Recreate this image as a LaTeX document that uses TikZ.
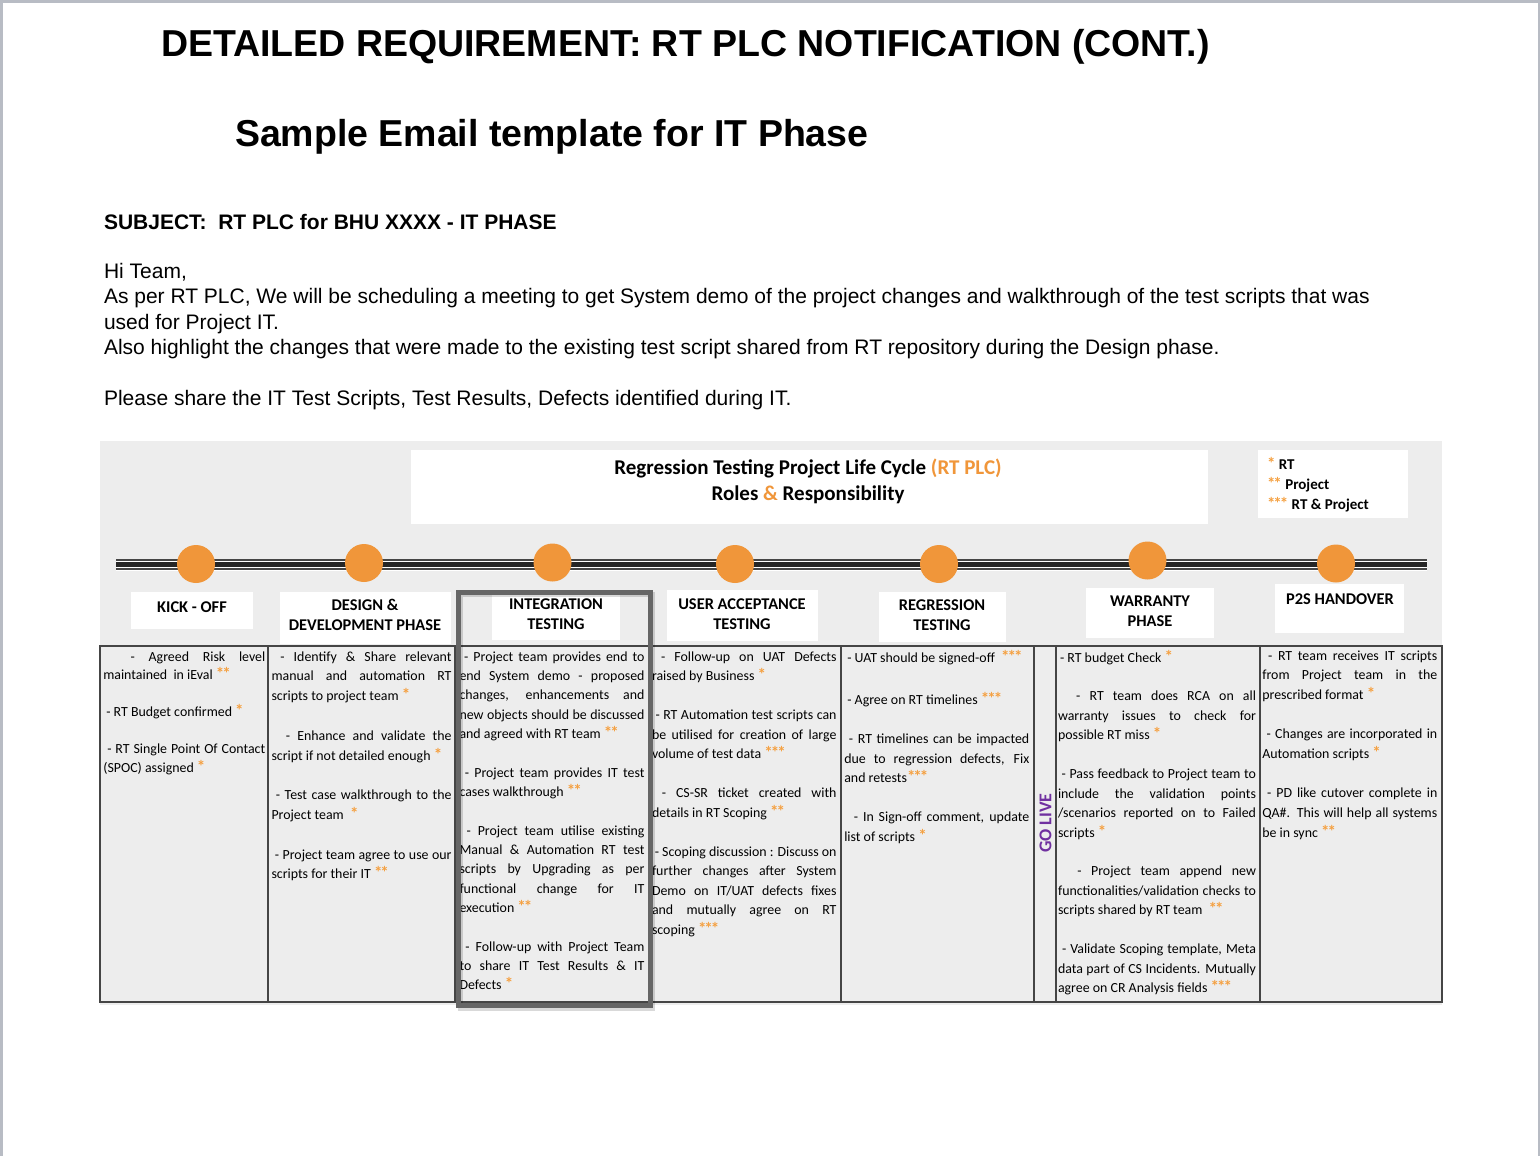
\documentclass[tikz,border=0pt]{standalone}
\usepackage{fontspec}
\setmainfont{Liberation Sans}
\newfontfamily\calfont{Carlito}
\newfontfamily\astfont{Carlito}[LetterSpace=-12]
\usetikzlibrary{calc}
\definecolor{org}{HTML}{F0963A}
\definecolor{ast}{HTML}{F5A040}
\definecolor{bggray}{HTML}{EDEDED}
\definecolor{pageframe}{HTML}{B8BCC4}
\definecolor{hl}{HTML}{666666}
\definecolor{tline}{HTML}{454545}
\definecolor{golive}{HTML}{7030A0}
\newcommand\J[1]{\makebox[\linewidth][s]{#1}}
\newcommand\A[1]{{\astfont\bfseries\fontsize{17}{0}\selectfont\textcolor{ast}{#1}}}
\newcommand\cellfont{\calfont\fontsize{13.9}{19.5}\selectfont}
\newcommand\lsk[1]{\fontsize{13.9}{#1}\selectfont}
\begin{document}
\begin{tikzpicture}[x=1pt,y=-1pt,
  txt/.style={anchor=base west, inner sep=0, outer sep=0},
  bodytxt/.style={txt, font=\fontsize{21}{25}\selectfont},
  whitebox/.style={fill=white, inner sep=0, outer sep=0},
  lbltext/.style={anchor=base, inner sep=0, font=\calfont\bfseries\fontsize{16.4}{20}\selectfont},
  legtext/.style={txt, font=\calfont\bfseries\fontsize{15}{20}\selectfont},
  dot/.style={circle, fill=org, minimum size=38pt, inner sep=0},
  cell/.style={anchor=base west, inner sep=0, outer sep=0, font=\cellfont},
  tablerule/.style={draw=tline, line width=1.2pt},
 ]
\useasboundingbox (0,0) rectangle (1540,1156);
\fill[white] (0,0) rectangle (1540,1156);
\fill[pageframe] (0,0) rectangle (1540,3);
\fill[pageframe] (0,0) rectangle (3,1156);
\fill[pageframe] (1538,0) rectangle (1540,1156);

% titles
\node[txt, font=\bfseries\fontsize{37.5}{44}\selectfont] (title) at (161,56.7) {DETAILED REQUIREMENT: RT PLC NOTIFICATION (CONT.)};
\node[txt, font=\bfseries\fontsize{37.5}{44}\selectfont] (subtitle) at (235,146) {Sample Email template for IT Phase};
\node[txt, font=\bfseries\fontsize{21}{25}\selectfont] (subject) at (104,229) {SUBJECT:\ \ RT PLC for BHU XXXX - IT PHASE};
\node[bodytxt] (b1) at (104,278) {Hi Team,};
\node[bodytxt] (b2) at (104,303.5) {As per RT PLC, We will be scheduling a meeting to get System demo of the project changes and walkthrough of the test scripts that was};
\node[bodytxt] (b3) at (104,329) {used for Project IT.};
\node[bodytxt] (b4) at (104,354.5) {Also highlight the changes that were made to the existing test script shared from RT repository during the Design phase.};
\node[bodytxt] (b5) at (104,405.5) {Please share the IT Test Scripts, Test Results, Defects identified during IT.};

% diagram background
\fill[bggray] (100,441) rectangle (1442,1005);
\node[whitebox, minimum width=797pt, minimum height=74pt] (hdr) at (809.5,487) {};
\node[anchor=base, inner sep=0, font=\calfont\bfseries\fontsize{21}{26}\selectfont] (h1) at (808,474) {Regression Testing Project Life Cycle \textcolor{org}{(RT PLC)}};
\node[anchor=base, inner sep=0, font=\calfont\bfseries\fontsize{21}{26}\selectfont] (h2) at (808,500) {Roles \textcolor{org}{\&} Responsibility};

\node[whitebox, minimum width=150pt, minimum height=68pt] (leg) at (1333,484) {};
\node[legtext] (leg1) at (1267,469) {\A{*} RT};
\node[legtext] (leg2) at (1267,489) {\A{**} Project};
\node[legtext] (leg3) at (1267,509) {\A{***} RT \& Project};

% timeline
\coordinate (tl) at (116,564.5);
\coordinate (tr) at (1427,564.5);
\fill[white] ($(tl)+(0,-5.8)$) rectangle ($(tr)+(0,6)$);
\draw[line width=1.8pt, tline] ($(tl)+(0,-4.7)$) -- ($(tr)+(0,-4.7)$);
\draw[line width=4.4pt, black!85] (tl) -- (tr);
\draw[line width=2pt, tline] ($(tl)+(0,4.8)$) -- ($(tr)+(0,4.8)$);

\node[dot] (c1) at (196,564) {};
\node[dot] (c2) at (364,563) {};
\node[dot] (c3) at (552.5,562.5) {};
\node[dot] (c4) at (735,564) {};
\node[dot] (c5) at (939,564) {};
\node[dot] (c6) at (1147.5,560.5) {};
\node[dot] (c7) at (1336,563.5) {};

% phase labels
\node[whitebox, minimum width=122pt, minimum height=37pt] (l1) at (192,610.5) {};
\node[whitebox, minimum width=171pt, minimum height=52pt] (l2) at (365.5,618) {};
\node[whitebox, minimum width=128pt, minimum height=50pt] (l3) at (556,615) {};
\node[whitebox, minimum width=151pt, minimum height=51pt] (l4) at (742.5,615.5) {};
\node[whitebox, minimum width=127pt, minimum height=50pt] (l5) at (942.5,617) {};
\node[whitebox, minimum width=128pt, minimum height=50pt] (l6) at (1150,613) {};
\node[whitebox, minimum width=129pt, minimum height=49pt] (l7) at (1339.5,608.5) {};

\node[lbltext] (t1) at (192,612.3) {KICK - OFF};
\node[lbltext] (t2a) at (365,610.3) {DESIGN \&};
\node[lbltext] (t2b) at (365,630.3) {DEVELOPMENT PHASE};
\node[lbltext] (t3a) at (556,609.3) {INTEGRATION};
\node[lbltext] (t3b) at (556,629.3) {TESTING};
\node[lbltext] (t4a) at (742,609.3) {USER ACCEPTANCE};
\node[lbltext] (t4b) at (742,629.3) {TESTING};
\node[lbltext] (t5a) at (942,610.3) {REGRESSION};
\node[lbltext] (t5b) at (942,630.3) {TESTING};
\node[lbltext] (t6a) at (1150,606.3) {WARRANTY};
\node[lbltext] (t6b) at (1150,626.3) {PHASE};
\node[lbltext] (t7) at (1340,604.3) {P2S HANDOVER};

% table
\draw[tablerule] (100,646) rectangle (1442,1002);
\foreach \x in {268,455,650,841,1034,1056,1260} \draw[tablerule] (\x,646) -- (\x,1002);

\node[cell] (k) at (103.3,661) {\parbox[t]{162pt}{\lsk{18.5}%
\J{\ \ - Agreed Risk level}\\
maintained\ \ in iEval \A{**}\\
\mbox{}\\
\hspace*{3pt}- RT Budget confirmed \A{*}\\
\mbox{}\\
\J{\ - RT Single Point Of Contact}\\
(SPOC) assigned \A{*}}};

\node[cell] (d) at (271.5,661) {\parbox[t]{180pt}{\lsk{19.8}%
\J{\ - Identify \& Share relevant}\\
\J{manual and automation RT}\\
scripts to project team \A{*}\\
\mbox{}\\
\J{\ \ - Enhance and validate the}\\
script if not detailed enough \A{*}\\
\mbox{}\\
\J{\ - Test case walkthrough to the}\\
Project team\ \ \A{*}\\
\mbox{}\\
\J{\ - Project team agree to use our}\\
scripts for their IT \A{**}}};

\node[cell] (i) at (459.5,661) {\parbox[t]{185pt}{\lsk{19.35}%
\J{\,\,- Project team provides end to}\\
\J{end System demo - proposed}\\
\J{changes, enhancements and}\\
\J{new objects should be discussed}\\
and agreed with RT team \A{**}\\
\mbox{}\\
\J{\ - Project team provides IT test}\\
cases walkthrough \A{**}\\
\mbox{}\\
\J{\ - Project team utilise existing}\\
\J{Manual \& Automation RT test}\\
\J{scripts by Upgrading as per}\\
\J{functional change for IT}\\
execution \A{**}\\
\mbox{}\\
\J{\ - Follow-up with Project Team}\\
\J{to share IT Test Results \& IT}\\
Defects \A{*}}};

\node[cell] (u) at (652,661) {\parbox[t]{184.5pt}{\lsk{19.5}%
\J{\ - Follow-up on UAT Defects}\\
raised by Business \A{*}\\
\mbox{}\\
\J{\ - RT Automation test scripts can}\\
\J{be utilised for creation of large}\\
volume of test data \A{***}\\
\mbox{}\\
\J{\ - CS-SR ticket created with}\\
details in RT Scoping \A{**}\\
\mbox{}\\
\J{\ - Scoping discussion : Discuss on}\\
\J{further changes after System}\\
\J{Demo on IT/UAT defects fixes}\\
\J{and mutually agree on RT}\\
scoping \A{***}}};

\node[cell] (r) at (844.3,662) {\parbox[t]{185pt}{\lsk{19.6}%
\hspace*{3pt}- UAT should be signed-off\ \ \A{***}\\
\mbox{}\\[3pt]
\hspace*{3pt}- Agree on RT timelines \A{***}\\
\mbox{}\\
\J{\ - RT timelines can be impacted}\\
\J{due to regression defects, Fix}\\
and retests\A{***}\\
\mbox{}\\
\J{\ \ - In Sign-off comment, update}\\
list of scripts \A{*}}};

\node[cell] (w) at (1058,662) {\parbox[t]{198pt}{\lsk{19.45}%
\hspace*{2pt}- RT budget Check \A{*}\\
\mbox{}\\
\J{\ \ - RT team does RCA on all}\\
\J{warranty issues to check for}\\
possible RT miss \A{*}\\
\mbox{}\\
\J{\ - Pass feedback to Project team to}\\
\J{include the validation points}\\
\J{/scenarios reported on to Failed}\\
scripts \A{*}\\
\mbox{}\\
\J{\ \ - Project team append new}\\
\J{functionalities/validation checks to}\\
scripts shared by RT team\ \ \A{**}\\
\mbox{}\\
\J{\ - Validate Scoping template, Meta}\\
\J{data part of CS Incidents. Mutually}\\
agree on CR Analysis fields \A{***}}};

\node[cell] (p) at (1262.3,660) {\parbox[t]{175pt}{\lsk{19.7}%
\J{\ - RT team receives IT scripts}\\
\J{from Project team in the}\\
prescribed format \A{*}\\
\mbox{}\\
\J{\ - Changes are incorporated in}\\
Automation scripts \A{*}\\
\mbox{}\\
\J{\ - PD like cutover complete in}\\
\J{QA\#. This will help all systems}\\
be in sync \A{**}}};

\node[rotate=90, inner sep=0, text=golive, font=\calfont\bfseries\fontsize{18}{20}\selectfont] (golive) at (1045.5,823) {GO LIVE};

% highlight frame around integration testing
\draw[line width=5pt, black, opacity=0.15] (460,594.5) rectangle (652,1008);
\draw[line width=5pt, hl] (458.5,592) rectangle (650.4,1005.5);
\end{tikzpicture}
\end{document}
